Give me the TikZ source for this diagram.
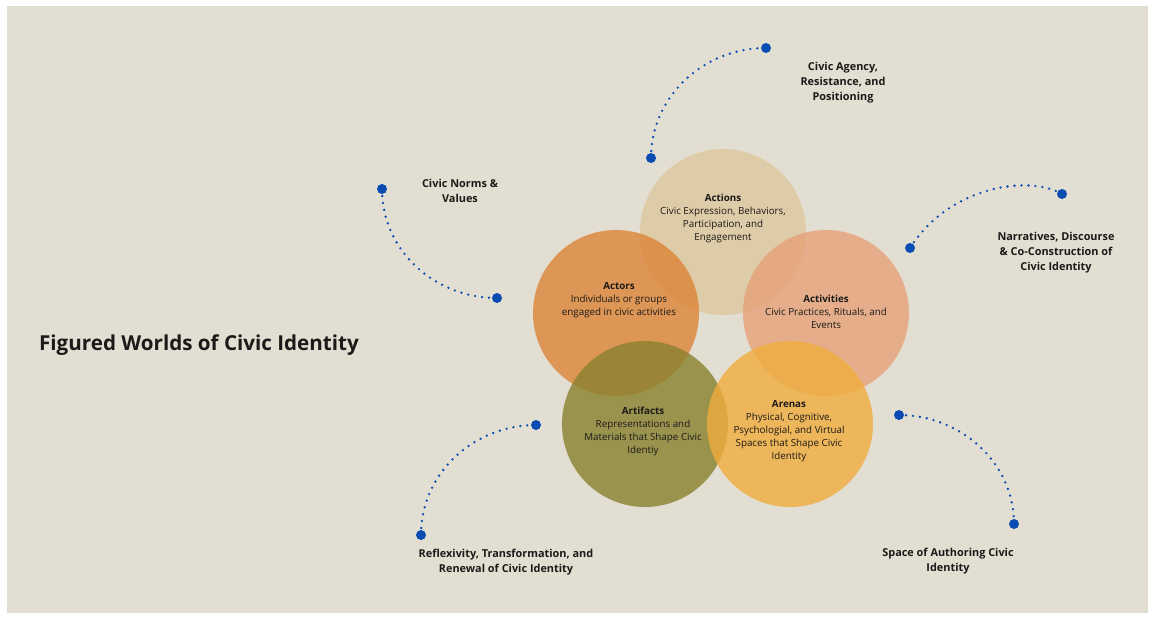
\documentclass[tikz,border=0pt]{standalone}
\usepackage{fontspec}
\setmainfont{Open Sans}
\definecolor{paper}{RGB}{226,222,210}
\definecolor{ink}{RGB}{28,26,24}
\definecolor{dotblue}{RGB}{10,76,178}
\definecolor{cActions}{RGB}{222,199,157}
\definecolor{cActors}{RGB}{220,132,54}
\definecolor{cActivities}{RGB}{230,161,120}
\definecolor{cArtifacts}{RGB}{137,129,45}
\definecolor{cArenas}{RGB}{241,173,62}
\tikzset{
  bubble/.style={circle, minimum size=166pt, inner sep=0pt, fill opacity=0.8},
  bubbletext/.style={align=center, text=ink, font=\fontsize{9.8}{13}\selectfont},
  theme/.style={align=center, text=ink, font=\fontsize{10.9}{15}\selectfont\bfseries},
  enddot/.style={circle, fill=dotblue, minimum size=10pt, inner sep=0pt},
  trail/.style={dotblue, line width=2.6pt, line cap=round, dash pattern=on 0pt off 7pt}
}
\begin{document}
\begin{tikzpicture}[x=1pt, y=-1pt]
\useasboundingbox (0,0) rectangle (1154,619);
\fill[white] (0,0) rectangle (1154,619);
\fill[paper] (7,6) rectangle (1148,613);

% overlapping circles
\node[bubble, fill=cActions]    (actions)    at (723,232) {};
\node[bubble, fill=cActivities] (activities) at (826,313) {};
\node[bubble, fill=cActors]     (actors)     at (616,313) {};
\node[bubble, fill=cArtifacts]  (artifacts)  at (645,424) {};
\node[bubble, fill=cArenas]     (arenas)     at (790,424) {};

% circle captions
\node[bubbletext] (tActions) at (723,218) {\textbf{Actions}\\Civic Expression, Behaviors,\\Participation, and\\Engagement};
\node[bubbletext] (tActors) at (619,300) {\textbf{Actors}\\Individuals or groups\\engaged in civic activities};
\node[bubbletext] (tActivities) at (826,312) {\textbf{Activities}\\Civic Practices, Rituals, and\\Events};
\node[bubbletext] (tArtifacts) at (643,431) {\textbf{Artifacts}\\Representations and\\Materials that Shape Civic\\Identiy};
\node[bubbletext] (tArenas) at (789,431) {\textbf{Arenas}\\Physical, Cognitive,\\Psychologial, and Virtual\\Spaces that Shape Civic\\Identity};

% title
\node[text=ink, font=\fontsize{20.6}{24}\selectfont\bfseries] (title) at (199,345) {Figured Worlds of Civic Identity};

% dotted trails with end dots
\node[enddot] (a1) at (651,158) {};
\node[enddot] (a2) at (766,48) {};
\draw[trail] (a1.center) .. controls (651,97) and (703,48) .. (a2.center);

\node[enddot] (b1) at (382,189) {};
\node[enddot] (b2) at (497,298) {};
\draw[trail] (b1.center) .. controls (382,250) and (434,298) .. (b2.center);

\node[enddot] (c1) at (910,248) {};
\node[enddot] (c2) at (1062,194) {};
\draw[trail] (c1.center) .. controls (950,185) and (1030,175) .. (c2.center);

\node[enddot] (d1) at (421,535) {};
\node[enddot] (d2) at (536,425) {};
\draw[trail] (d1.center) .. controls (421,472) and (475,425) .. (d2.center);

\node[enddot] (e1) at (899,415) {};
\node[enddot] (e2) at (1014,524) {};
\draw[trail] (e1.center) .. controls (960,415) and (1014,462) .. (e2.center);

% theme labels
\node[theme] (lAgency) at (843,83) {Civic Agency,\\Resistance, and\\Positioning};
\node[theme] (lNorms) at (460,191) {Civic Norms \&\\Values};
\node[theme] (lNarr) at (1056,253) {Narratives, Discourse\\\& Co-Construction of\\Civic Identity};
\node[theme] (lRefl) at (506,562) {Reflexivity, Transformation, and\\Renewal of Civic Identity};
\node[theme] (lSpace) at (948,561) {Space of Authoring Civic\\Identity};
\end{tikzpicture}
\end{document}
